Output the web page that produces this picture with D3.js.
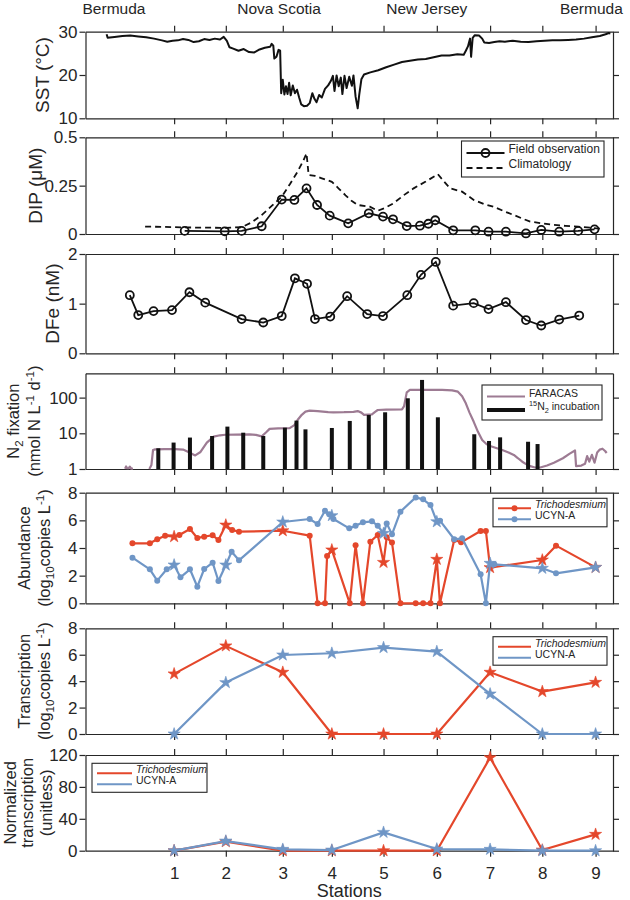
<!DOCTYPE html>
<html>
<head>
<meta charset="utf-8">
<script src="https://cdn.jsdelivr.net/npm/d3@7"></script>
<style>
  body { margin: 0; background: #fff; }
  svg text { font-family: "Liberation Sans", Arial, Helvetica, sans-serif; fill: #262626; }
</style>
</head>
<body>
<div id="chart"></div>
<script>
// ---------------------------------------------------------------------------
// DATA  (x = position along the cruise track, 0-100)
// ---------------------------------------------------------------------------
const stationPos = [16.8, 26.6, 37.4, 46.7, 56.5, 66.6, 76.7, 86.6, 96.7];
const stationLabels = ['1', '2', '3', '4', '5', '6', '7', '8', '9'];

const placeNames = ['Bermuda', 'Nova Scotia', 'New Jersey', 'Bermuda'];
const placePos = [5.4, 36.7, 64.7, 95.9];

// sea surface temperature (°C)
const sst = [
  [4.0, 29.4], [4.2, 28.6], [5.5, 28.8], [7.0, 29.0], [8.5, 29.1], [10.0, 28.9], [11.5, 28.7],
  [13.0, 28.4], [14.5, 28.0], [15.5, 27.7], [16.5, 27.9], [17.5, 28.0], [18.5, 28.3], [19.5, 28.1],
  [20.5, 27.6], [21.5, 27.8], [22.5, 28.3], [23.5, 28.1], [24.5, 28.4], [25.5, 28.2], [26.2, 28.8],
  [26.8, 27.9], [27.3, 26.4], [28.0, 26.1], [29.0, 25.6], [30.0, 26.0], [31.0, 25.3], [32.0, 25.2],
  [33.0, 25.9], [34.0, 26.3], [35.0, 26.5], [35.3, 27.2], [35.6, 26.8], [35.8, 23.8], [36.2, 24.2],
  [36.6, 25.8], [36.9, 25.6], [37.1, 15.8], [37.4, 18.9], [37.7, 15.5], [38.0, 17.4], [38.3, 15.6],
  [38.6, 18.2], [38.9, 15.3], [39.3, 17.6], [39.7, 15.8], [40.1, 16.6], [40.5, 14.8], [40.9, 13.2],
  [41.4, 12.8], [42.0, 12.9], [42.5, 13.5], [43.0, 15.8], [43.4, 14.5], [43.8, 13.7], [44.3, 15.4],
  [44.8, 14.8], [45.4, 16.8], [46.0, 17.6], [46.5, 18.6], [46.9, 19.8], [47.2, 16.3], [47.6, 19.9],
  [48.0, 17.4], [48.4, 19.4], [48.7, 15.6], [49.1, 19.8], [49.5, 17.0], [50.0, 19.6], [50.5, 17.5],
  [50.8, 19.9], [51.2, 15.0], [51.6, 12.3], [51.9, 15.5], [52.3, 19.0], [52.8, 20.1], [54.0, 20.6],
  [55.5, 21.1], [57.0, 21.8], [58.5, 22.4], [60.0, 23.0], [61.5, 23.3], [63.0, 23.6], [64.5, 23.7],
  [66.0, 24.1], [67.5, 24.5], [69.0, 24.5], [70.5, 24.8], [71.7, 24.7], [72.1, 25.6], [72.5, 26.6],
  [72.9, 28.4], [73.1, 24.2], [73.4, 28.6], [73.8, 29.2], [74.6, 29.1], [75.2, 28.4], [75.6, 27.5],
  [76.5, 27.4], [77.5, 27.6], [78.5, 27.8], [79.5, 27.7], [81.0, 27.9], [82.5, 27.7], [84.0, 27.6],
  [85.5, 27.8], [87.0, 27.9], [88.5, 28.0], [90.0, 28.0], [91.5, 28.1], [93.0, 28.2], [94.5, 28.4],
  [96.0, 28.7], [97.5, 29.0], [98.6, 29.4], [99.2, 29.7], [99.5, 29.6]
];

// dissolved inorganic phosphate (µM)
const dipField = [
  [18.8, 0.016], [26.4, 0.014], [29.6, 0.016], [33.4, 0.040], [37.2, 0.178], [39.6, 0.176],
  [41.9, 0.236], [43.9, 0.150], [46.3, 0.095], [49.8, 0.055], [53.7, 0.107], [56.4, 0.090],
  [58.3, 0.076], [60.9, 0.041], [63.4, 0.043], [65.0, 0.053], [66.3, 0.071], [69.7, 0.019],
  [73.9, 0.019], [76.4, 0.012], [79.7, 0.012], [83.5, 0.003], [86.4, 0.021], [89.8, 0.012],
  [93.4, 0.016], [96.5, 0.024]
];
const dipClim = [
  [11.3, 0.038], [15.0, 0.037], [18.8, 0.034], [22.0, 0.033], [26.4, 0.032], [29.6, 0.035],
  [31.5, 0.060], [33.4, 0.098], [35.3, 0.145], [37.2, 0.193], [38.8, 0.260], [40.2, 0.322],
  [41.3, 0.380], [41.9, 0.417], [42.3, 0.305], [43.5, 0.300], [44.8, 0.288], [46.7, 0.270],
  [48.0, 0.235], [49.3, 0.200], [50.5, 0.170], [51.6, 0.150], [53.9, 0.141], [55.4, 0.120],
  [56.8, 0.135], [58.4, 0.159], [60.3, 0.200], [62.2, 0.236], [64.5, 0.271], [66.8, 0.309],
  [68.0, 0.270], [69.1, 0.236], [71.4, 0.219], [73.6, 0.176], [75.5, 0.155], [77.4, 0.141],
  [79.3, 0.118], [81.2, 0.098], [82.8, 0.080], [84.3, 0.064], [86.5, 0.055], [88.8, 0.047],
  [91.0, 0.042], [93.4, 0.038], [96.0, 0.032], [98.0, 0.026]
];

// dissolved iron (nM)
const dfe = [
  [8.4, 1.17], [10.0, 0.77], [12.9, 0.85], [16.4, 0.87], [19.7, 1.23], [22.7, 1.02], [29.6, 0.69],
  [33.7, 0.62], [37.2, 0.75], [39.7, 1.51], [42.0, 1.40], [43.5, 0.69], [46.4, 0.74], [49.6, 1.15],
  [53.4, 0.79], [56.4, 0.75], [61.0, 1.17], [63.6, 1.58], [66.4, 1.84], [69.7, 0.96], [73.6, 1.01],
  [76.4, 0.89], [79.7, 1.03], [83.5, 0.67], [86.4, 0.56], [89.8, 0.68], [93.6, 0.76]
];

// N2 fixation (nmol N L-1 d-1)
const faracas = [
  [7.5, 1.02], [7.7, 1.18], [7.9, 1.05], [8.2, 1.06], [8.4, 1.16], [8.7, 1.02], [9.0, 1.03], null,
  [12.1, 1.0], [12.5, 1.3], [12.8, 3.4], [13.2, 3.55], [15.0, 3.6], [17.0, 3.6], [18.5, 3.5],
  [19.5, 3.0], [20.8, 2.4], [21.8, 3.0], [23.0, 5.5], [24.3, 8.1], [25.5, 8.8], [26.5, 9.1],
  [28.5, 9.2], [31.1, 9.3], [32.3, 9.0], [33.4, 8.2], [34.2, 10.5], [34.9, 13.3], [36.5, 13.8],
  [38.7, 14.0], [39.6, 17.0], [40.2, 23.6], [41.0, 33.0], [41.7, 40.5], [42.5, 43.0], [44.0, 42.0],
  [46.0, 39.0], [47.0, 38.8], [49.0, 39.0], [50.8, 40.0], [51.6, 42.0], [52.3, 38.0], [52.8, 32.7],
  [54.3, 34.0], [54.9, 40.0], [55.4, 45.0], [57.0, 46.0], [60.0, 47.0], [60.4, 58.0], [60.9, 140],
  [61.5, 164], [64.0, 165], [67.6, 164], [69.5, 160], [70.6, 147], [71.4, 110], [72.1, 69],
  [72.8, 38], [73.6, 21], [74.4, 11], [75.2, 6.5], [76.0, 5.0], [76.7, 4.4], [78.0, 3.8],
  [79.0, 3.4], [80.2, 2.9], [81.2, 2.47], [82.0, 2.0], [82.8, 1.6], [83.6, 1.35], [84.3, 1.2],
  [85.2, 1.1], [86.2, 1.1], [87.5, 1.25], [88.8, 1.5], [90.5, 2.0], [91.8, 2.7], [92.8, 3.3],
  [93.0, 1.2], [94.0, 1.25], [94.7, 1.4], [95.1, 2.3], [95.5, 1.6], [96.0, 2.5], [96.5, 1.5],
  [97.0, 2.9], [97.5, 3.5], [98.0, 3.7], [98.5, 3.2], [98.8, 2.8]
];
const incubation = [
  [13.8, 3.8], [16.7, 5.5], [19.8, 7.6], [24.0, 8.4], [26.9, 15.4], [29.9, 10.4], [33.7, 8.4],
  [37.8, 14.4], [40.0, 22.7], [41.7, 12.9], [46.7, 14.1], [50.1, 22.2], [53.7, 32.7], [56.8, 38.8],
  [61.1, 95.8], [63.8, 313], [66.8, 28.1], [73.7, 9.4], [76.5, 6.1], [78.6, 7.7], [83.9, 5.8],
  [85.7, 5.0]
];

// abundance (log10 copies L-1): underway samples + values at the stations
const trichoAbund = [
  [8.9, 4.34], [12.2, 4.34], [13.6, 4.63], [15.1, 4.89], [17.8, 4.94], [19.8, 5.37], [21.2, 4.72],
  [22.5, 4.82], [24.1, 4.92], [25.2, 4.58], [27.8, 5.30], [29.1, 5.18], [42.5, 4.89], [44.0, 0],
  [45.4, 0], [45.8, 3.42], [50.1, 0], [51.2, 4.2], [52.6, 0], [54.0, 4.46], [55.4, 4.94],
  [57.1, 4.77], [58.1, 4.39], [59.7, 0], [62.6, 0], [64.0, 0], [65.4, 0], [67.2, 0], [69.9, 4.58],
  [71.2, 4.41], [74.9, 5.23], [75.9, 5.23], [89.2, 4.17]
];
const trichoAbundSt = [4.82, 5.66, 5.25, 3.86, 2.96, 3.18, 2.58, 3.13, 2.60];
const ucynAbund = [
  [8.9, 3.30], [12.2, 2.46], [13.6, 1.64], [15.4, 2.46], [18.0, 1.88], [19.8, 2.46], [21.2, 1.20],
  [22.5, 2.48], [24.1, 2.94], [25.2, 1.61], [27.7, 3.73], [29.1, 3.11], [42.5, 6.10], [44.0, 5.73],
  [45.4, 6.70], [46.2, 6.45], [47.0, 6.10], [50.0, 5.42], [51.2, 5.61], [52.6, 5.86], [54.3, 5.93],
  [55.4, 5.61], [57.1, 5.78], [58.1, 4.99], [59.7, 6.63], [62.6, 7.66], [64.0, 7.52], [65.4, 7.11],
  [67.2, 5.98], [69.9, 4.63], [71.4, 4.70], [74.9, 2.10], [75.9, 0], [77.5, 2.82], [89.2, 2.17]
];
const ucynAbundSt = [2.77, 2.77, 5.88, 6.34, 5.06, 5.90, 2.89, 2.53, 2.60];

// transcription (log10 copies L-1) at stations
const trichoTrans = [4.55, 6.67, 4.67, 0, 0, 0, 4.67, 3.21, 3.91];
const ucynTrans = [0, 3.89, 5.98, 6.11, 6.54, 6.24, 3.03, 0, 0];

// normalized transcription (unitless) at stations
const trichoNorm = [0, 11.3, 0, 0, 0, 0, 116.7, 0.8, 20.5];
const ucynNorm = [0, 12.1, 1.7, 0.8, 23.0, 2.1, 1.7, 0, 0];

// ---------------------------------------------------------------------------
// SETUP
// ---------------------------------------------------------------------------
const RED = '#e4472b', BLUE = '#6f96c6', MAUVE = '#9d7b93', INK = '#262626';
const svg = d3.select('#chart').append('svg').attr('width', 630).attr('height', 900);
const x = d3.scaleLinear().domain([0, 100]).range([85.5, 613]);
const star = d3.symbol().type(d3.symbolStar).size(46);

function rich(sel, parts, fs) {
  let shift = 0;
  parts.forEach(p => {
    const target = p.sup ? -0.38 * fs : p.sub ? 0.24 * fs : 0;
    const ts = sel.append('tspan').text(p.t).attr('dy', target - shift);
    if (p.sup || p.sub) ts.attr('font-size', fs * 0.7);
    if (p.it) ts.style('font-style', 'italic');
    shift = target;
  });
}

function ytitle(lines, cy) {
  lines.forEach(l => {
    const t = svg.append('text')
      .attr('transform', `translate(${l.cx},${cy}) rotate(-90)`)
      .attr('y', 0.35 * l.fs)
      .attr('text-anchor', 'middle')
      .attr('font-size', l.fs);
    rich(t, l.parts, l.fs);
  });
}

function panel(p) {
  const y = (p.log ? d3.scaleLog() : d3.scaleLinear()).domain(p.domain).range([p.bottom, p.top]);
  const [x0, x1] = x.range();
  const g = svg.append('g');
  const fmt = p.fmt || (d => d);
  const axes = [
    g.append('g').attr('transform', `translate(${x0},0)`)
      .call(d3.axisLeft(y).tickValues(p.ticks).tickFormat(fmt).tickSize(6).tickSizeOuter(0).tickPadding(2)),
    g.append('g').attr('transform', `translate(${x1},0)`)
      .call(d3.axisRight(y).tickValues(p.ticks).tickFormat('').tickSize(6).tickSizeOuter(0)),
    g.append('g').attr('transform', `translate(0,${p.top})`)
      .call(d3.axisTop(x).tickValues(stationPos).tickFormat('').tickSize(6).tickSizeOuter(0)),
    g.append('g').attr('transform', `translate(0,${p.bottom})`)
      .call(d3.axisBottom(x).tickValues(stationPos)
        .tickFormat(p.last ? (d, i) => stationLabels[i] : '').tickSize(6).tickSizeOuter(0).tickPadding(10))
  ];
  axes.forEach(a => {
    a.attr('font-family', null).attr('font-size', 17);
    a.selectAll('path, line').attr('stroke', INK).attr('stroke-width', 1.2);
    a.selectAll('text').attr('fill', INK);
  });
  ytitle(p.title, (p.top + p.bottom) / 2);
  return y;
}

function legend(box, items, fs) {
  svg.append('rect').attr('x', box.x).attr('y', box.y).attr('width', box.w).attr('height', box.h)
    .attr('fill', '#fff').attr('stroke', INK).attr('stroke-width', 1.1);
  items.forEach(it => {
    const lx0 = box.x + 5, lx1 = lx0 + box.len;
    svg.append('line').attr('x1', lx0).attr('x2', lx1).attr('y1', it.y).attr('y2', it.y)
      .attr('stroke', it.color).attr('stroke-width', it.width || 2)
      .attr('stroke-dasharray', it.dash || null);
    if (it.marker === 'circle') {
      svg.append('circle').attr('cx', (lx0 + lx1) / 2).attr('cy', it.y).attr('r', 4)
        .attr('fill', 'none').attr('stroke', it.color).attr('stroke-width', 1.8);
    } else if (it.marker === 'dot') {
      svg.append('circle').attr('cx', (lx0 + lx1) / 2).attr('cy', it.y).attr('r', 3).attr('fill', it.color);
    }
    const t = svg.append('text').attr('x', lx1 + 4).attr('y', it.y).attr('dy', '0.35em').attr('font-size', fs);
    rich(t, it.label, fs);
  });
}

const ptLine = d3.line().defined(d => d !== null).x(d => x(d[0]));

// ---------------------------------------------------------------------------
// LOCATION LABELS
// ---------------------------------------------------------------------------
svg.selectAll('.place').data(placeNames).enter().append('text')
  .attr('x', (d, i) => x(placePos[i])).attr('y', 14)
  .attr('text-anchor', 'middle').attr('font-size', 15.5).text(d => d);

// ---------------------------------------------------------------------------
// PANEL 1: SST
// ---------------------------------------------------------------------------
const ySst = panel({ top: 31.7, bottom: 118.3, domain: [10, 30], ticks: [10, 20, 30],
  title: [{ cx: 42, fs: 19, parts: [{ t: 'SST (°C)' }] }] });
svg.append('path').datum(sst).attr('d', ptLine.y(d => ySst(d[1])))
  .attr('fill', 'none').attr('stroke', '#111').attr('stroke-width', 2).attr('stroke-linejoin', 'round');

// ---------------------------------------------------------------------------
// PANEL 2: DIP
// ---------------------------------------------------------------------------
const yDip = panel({ top: 137.3, bottom: 234, domain: [0, 0.5], ticks: [0, 0.25, 0.5],
  title: [{ cx: 35, fs: 19, parts: [{ t: 'DIP (μM)' }] }] });
svg.append('path').datum(dipClim).attr('d', ptLine.y(d => yDip(d[1])))
  .attr('fill', 'none').attr('stroke', '#111').attr('stroke-width', 1.8).attr('stroke-dasharray', '6,4');
svg.append('path').datum(dipField).attr('d', ptLine.y(d => yDip(d[1])))
  .attr('fill', 'none').attr('stroke', '#111').attr('stroke-width', 1.8);
svg.selectAll('.dip').data(dipField).enter().append('circle')
  .attr('cx', d => x(d[0])).attr('cy', d => yDip(d[1])).attr('r', 4)
  .attr('fill', 'none').attr('stroke', '#111').attr('stroke-width', 1.8);
legend({ x: 461.5, y: 141, w: 142.5, h: 36, len: 38 }, [
  { y: 153, color: '#111', marker: 'circle', label: [{ t: 'Field observation' }] },
  { y: 168, color: '#111', dash: '6,4', label: [{ t: 'Climatology' }] }
], 12);

// ---------------------------------------------------------------------------
// PANEL 3: DFe
// ---------------------------------------------------------------------------
const yFe = panel({ top: 254, bottom: 353.3, domain: [0, 2], ticks: [0, 1, 2],
  title: [{ cx: 52, fs: 19, parts: [{ t: 'DFe (nM)' }] }] });
svg.append('path').datum(dfe).attr('d', ptLine.y(d => yFe(d[1])))
  .attr('fill', 'none').attr('stroke', '#111').attr('stroke-width', 1.8);
svg.selectAll('.fe').data(dfe).enter().append('circle')
  .attr('cx', d => x(d[0])).attr('cy', d => yFe(d[1])).attr('r', 4)
  .attr('fill', 'none').attr('stroke', '#111').attr('stroke-width', 1.8);

// ---------------------------------------------------------------------------
// PANEL 4: N2 fixation
// ---------------------------------------------------------------------------
const yN2 = panel({ top: 373.3, bottom: 469, domain: [1, 480], ticks: [1, 10, 100], log: true,
  title: [
    { cx: 13, fs: 16.5, parts: [{ t: 'N' }, { t: '2', sub: true }, { t: ' fixation' }] },
    { cx: 34, fs: 16.5, parts: [{ t: '(nmol N L' }, { t: '-1', sup: true }, { t: ' d' }, { t: '-1', sup: true }, { t: ')' }] }
  ] });
svg.append('path').datum(faracas).attr('d', ptLine.y(d => yN2(d[1])))
  .attr('fill', 'none').attr('stroke', MAUVE).attr('stroke-width', 2.2).attr('stroke-linejoin', 'round');
svg.selectAll('.bar').data(incubation).enter().append('rect')
  .attr('x', d => x(d[0]) - 2).attr('width', 4)
  .attr('y', d => yN2(d[1])).attr('height', d => yN2(1) - yN2(d[1]))
  .attr('fill', '#111');
legend({ x: 482, y: 385, w: 120, h: 35, len: 38 }, [
  { y: 396.5, color: MAUVE, width: 2.2, label: [{ t: 'FARACAS' }] },
  { y: 410, color: '#111', width: 4, label: [{ t: '15', sup: true }, { t: 'N' }, { t: '2', sub: true }, { t: ' incubation' }] }
], 10.5);

// ---------------------------------------------------------------------------
// PANELS 5-7: cyanobacteria
// ---------------------------------------------------------------------------
function series(y, pts, stVals, color) {
  const st = stVals.map((v, i) => [stationPos[i], v]);
  const all = pts.concat(st).sort((a, b) => a[0] - b[0]);
  svg.append('path').datum(all).attr('d', ptLine.y(d => y(d[1])))
    .attr('fill', 'none').attr('stroke', color).attr('stroke-width', 2.2).attr('stroke-linejoin', 'round');
  svg.append('g').selectAll('circle').data(pts).enter().append('circle')
    .attr('cx', d => x(d[0])).attr('cy', d => y(d[1])).attr('r', 3).attr('fill', color);
  svg.append('g').selectAll('path').data(st).enter().append('path')
    .attr('d', star).attr('transform', d => `translate(${x(d[0])},${y(d[1])})`)
    .attr('fill', color).attr('stroke', color).attr('stroke-width', 0.6);
}

const log10Title = [{ t: '(log' }, { t: '10', sub: true }, { t: 'copies L' }, { t: '-1', sup: true }, { t: ')' }];
const cyanoLegend = (box, marker) => legend(box, [
  { y: box.y + 10, color: RED, marker, label: [{ t: 'Trichodesmium', it: true }] },
  { y: box.y + 21, color: BLUE, marker, label: [{ t: 'UCYN-A' }] }
], 10.5);

const yAb = panel({ top: 492.7, bottom: 603.3, domain: [0, 8], ticks: [0, 2, 4, 6, 8],
  title: [{ cx: 24, fs: 16.5, parts: [{ t: 'Abundance' }] }, { cx: 44, fs: 16.5, parts: log10Title }] });
series(yAb, trichoAbund, trichoAbundSt, RED);
series(yAb, ucynAbund, ucynAbundSt, BLUE);
cyanoLegend({ x: 493, y: 498.3, w: 114, h: 28.5, len: 33 }, 'dot');

const yTr = panel({ top: 628.3, bottom: 734, domain: [0, 8], ticks: [0, 2, 4, 6, 8],
  title: [{ cx: 24, fs: 16.5, parts: [{ t: 'Transcription' }] }, { cx: 44, fs: 16.5, parts: log10Title }] });
series(yTr, [], trichoTrans, RED);
series(yTr, [], ucynTrans, BLUE);
cyanoLegend({ x: 493, y: 636.7, w: 114, h: 28.5, len: 33 });

const yNo = panel({ top: 755, bottom: 850.7, domain: [0, 120], ticks: [0, 40, 80, 120], last: true,
  title: [
    { cx: 10, fs: 16.5, parts: [{ t: 'Normalized' }] },
    { cx: 27, fs: 16.5, parts: [{ t: 'transcription' }] },
    { cx: 46, fs: 16.5, parts: [{ t: '(unitless)' }] }
  ] });
series(yNo, [], trichoNorm, RED);
series(yNo, [], ucynNorm, BLUE);
cyanoLegend({ x: 92, y: 763.3, w: 115, h: 29, len: 35 });

svg.append('text').attr('x', (x.range()[0] + x.range()[1]) / 2).attr('y', 897)
  .attr('text-anchor', 'middle').attr('font-size', 18).text('Stations');
</script>
</body>
</html>
